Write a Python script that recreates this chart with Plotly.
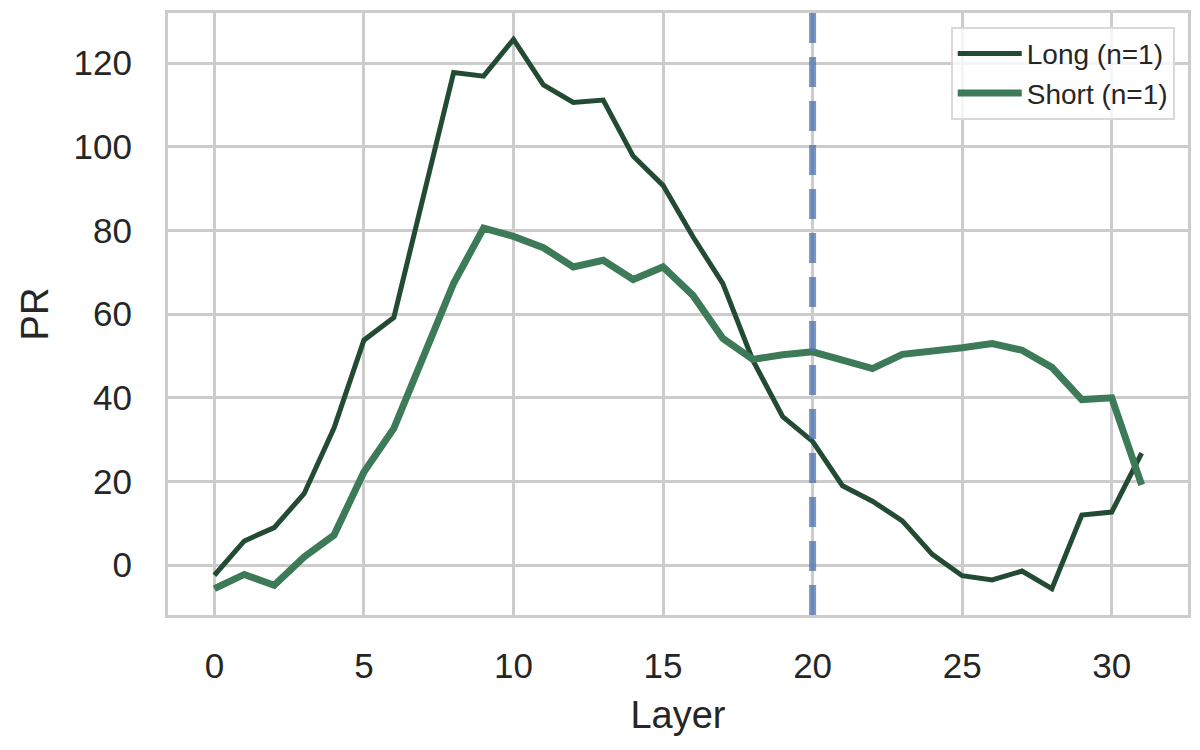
# PR per layer, long vs short prompts, with the cut-off layer marked
import plotly.graph_objects as go

# values
layers = list(range(32))
long_pr = [-2.4, 5.8, 9.0, 17.1, 32.8, 53.8, 59.2, 88.5, 117.8, 116.9,
           125.7, 114.8, 110.6, 111.2, 97.8, 90.8, 78.5, 67.3, 49.0, 35.5,
           29.6, 19.0, 15.3, 10.6, 2.6, -2.5, -3.5, -1.4, -5.6, 12.0,
           12.7, 26.8]
short_pr = [-5.6, -2.2, -4.8, 2.0, 7.2, 22.3, 32.7, 50.5, 67.4, 80.6,
            78.6, 75.9, 71.3, 72.9, 68.3, 71.3, 64.5, 54.2, 49.2, 50.3,
            51.0, 49.0, 47.0, 50.4, 51.0, 52.0, 53.0, 51.4, 47.3, 39.6,
            40.0, 19.2]
series_names = ['Long (n=1)', 'Short (n=1)']
cutoff_layer = 20

FONT = 'Liberation Sans, Arial, sans-serif'
TXT = '#262626'
GRID = '#cccccc'

fig = go.Figure()

fig.add_trace(go.Scatter(
    x=layers, y=long_pr, name=series_names[0], mode='lines',
    line=dict(color='#234b34', width=5)
))
fig.add_trace(go.Scatter(
    x=layers, y=short_pr, name=series_names[1], mode='lines',
    line=dict(color='#3d7a57', width=7)
))

# dashed marker for the cut-off layer
fig.add_shape(
    type='line', xref='x', yref='paper',
    x0=cutoff_layer, x1=cutoff_layer, y0=0, y1=1,
    line=dict(color='rgba(76,114,176,0.75)', width=7, dash='30px,14px'),
    layer='above'
)

axis_common = dict(
    showgrid=True, gridcolor=GRID, gridwidth=2.5,
    showline=True, linecolor=GRID, linewidth=3, mirror=True,
    zeroline=False, ticks='', automargin=False,
    tickfont=dict(family=FONT, size=35, color=TXT),
    title_font=dict(family=FONT, size=38, color=TXT),
)

fig.update_xaxes(
    range=[-1.55, 32.55], tickmode='linear', tick0=0, dtick=5,
    ticklabelstandoff=18,
    title_text='Layer', title_standoff=18, **axis_common
)
fig.update_yaxes(
    range=[-11.9, 132.0], tickmode='linear', tick0=0, dtick=20,
    ticklabelstandoff=26,
    title_text='PR', title_standoff=14, **axis_common
)

# the page body adds an 8px margin, so the figure is sized to fit inside it
fig.update_layout(
    width=1192, height=742,
    margin=dict(l=160, r=12, t=5, b=135),
    paper_bgcolor='white', plot_bgcolor='white',
    font=dict(family=FONT, color=TXT),
    legend=dict(
        x=0.987, y=0.977, xanchor='right', yanchor='top',
        bgcolor='rgba(255,255,255,0.8)', bordercolor='#d9d9d9', borderwidth=2,
        font=dict(family=FONT, size=28, color=TXT),
        itemwidth=64, tracegroupgap=0,
    ),
    showlegend=True,
)

fig.write_html('out.html')
